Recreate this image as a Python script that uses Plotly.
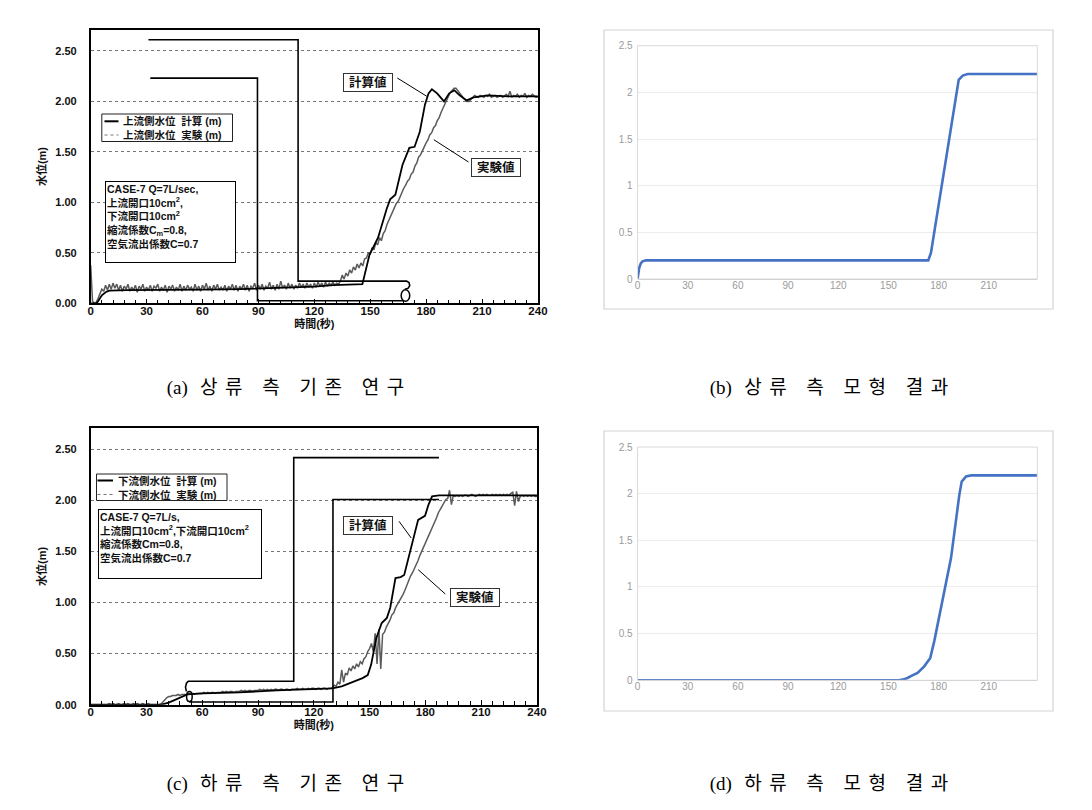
import plotly.graph_objects as go

W, H = 1092, 810

# ---------------- data ----------------
# 1-second sampling of the measured (experiment) water level
t_exp = list(range(0, 241))

# (a) upstream water level, experiment (m)
exp_a = [
    0.38, 0.02, 0.00, 0.01, 0.05, 0.10, 0.14, 0.12, 0.18, 0.13,
    0.19, 0.14, 0.20, 0.15, 0.19, 0.13, 0.18, 0.12, 0.17, 0.14,
    0.19, 0.12, 0.16, 0.13, 0.18, 0.11, 0.17, 0.14, 0.19, 0.12,
    0.16, 0.13, 0.18, 0.12, 0.17, 0.15, 0.19, 0.12, 0.16, 0.13,
    0.18, 0.11, 0.17, 0.14, 0.18, 0.12, 0.16, 0.13, 0.19, 0.12,
    0.17, 0.13, 0.18, 0.14, 0.16, 0.12, 0.19, 0.13, 0.17, 0.12,
    0.18, 0.14, 0.20, 0.13, 0.17, 0.12, 0.18, 0.14, 0.19, 0.13,
    0.16, 0.13, 0.18, 0.12, 0.17, 0.14, 0.19, 0.13, 0.18, 0.12,
    0.17, 0.14, 0.19, 0.13, 0.18, 0.12, 0.17, 0.15, 0.20, 0.13,
    0.18, 0.14, 0.19, 0.13, 0.17, 0.15, 0.21, 0.14, 0.18, 0.13,
    0.19, 0.14, 0.22, 0.15, 0.18, 0.14, 0.20, 0.15, 0.19, 0.14,
    0.18, 0.15, 0.20, 0.16, 0.19, 0.15, 0.20, 0.16, 0.19, 0.15,
    0.20, 0.16, 0.21, 0.17, 0.20, 0.16, 0.21, 0.17, 0.20, 0.18,
    0.21, 0.18, 0.20, 0.19, 0.22, 0.28, 0.24, 0.30, 0.27, 0.33,
    0.30, 0.36, 0.33, 0.39, 0.35, 0.40, 0.37, 0.44, 0.45, 0.50,
    0.49, 0.55, 0.53, 0.60, 0.58, 0.65, 0.62, 0.69, 0.72, 0.78,
    0.82, 0.87, 0.91, 0.94, 0.99, 1.01, 1.06, 1.09, 1.14, 1.17,
    1.21, 1.23, 1.28, 1.30, 1.36, 1.39, 1.45, 1.47, 1.52, 1.55,
    1.59, 1.62, 1.67, 1.69, 1.74, 1.76, 1.81, 1.84, 1.89, 1.93,
    1.98, 2.01, 2.05, 2.09, 2.11, 2.13, 2.13, 2.11, 2.08, 2.06,
    2.03, 2.01, 2.00, 2.00, 2.02, 2.04, 2.06, 2.05, 2.04, 2.06,
    2.05, 2.04, 2.06, 2.05, 2.07, 2.04, 2.05, 2.06, 2.04, 2.05,
    2.06, 2.04, 2.05, 2.07, 2.05, 2.10, 2.04, 2.06, 2.05, 2.07,
    2.04, 2.06, 2.05, 2.08, 2.04, 2.06, 2.05, 2.07, 2.05, 2.04,
    2.05,
]

# (a) upstream water level, calculation (m)
calc_a_t = [0, 2, 3, 4, 5, 6, 8, 10, 20, 40, 60, 80, 100, 120, 130, 134.6, 145.8,
            149.6, 154.2, 158.9, 160.7, 163.5, 167.3, 171, 173.8, 176.6, 179.4,
            181.3, 183.1, 185.9, 189.6, 192.4, 195.2, 198, 201.8, 205.5, 213, 224, 240]
calc_a = [0, 0, 0.0, 0.02, 0.05, 0.08, 0.11, 0.125, 0.13, 0.13, 0.135, 0.14, 0.15,
          0.165, 0.18, 0.185, 0.19, 0.48, 0.65, 0.94, 1.03, 1.075, 1.37, 1.54, 1.55,
          1.70, 1.97, 2.08, 2.12, 2.08, 2.00, 2.08, 2.11, 2.06, 2.01, 2.04, 2.06, 2.05, 2.05]

# (a) schematic (tank / pipe) drawing lines
sch_a1_t = [31, 111.3, 111.3, 169.5, 170.8, 171.2, 170.4, 168.6]
sch_a1_y = [2.61, 2.61, 0.22, 0.22, 0.205, 0.175, 0.15, 0.14]
sch_a2_t = [32, 89.5, 89.5, 168]
sch_a2_y = [2.23, 2.23, 0.025, 0.025]
ell_a = [166.6, 171.2, 0.02, 0.135]

# (c) downstream water level, experiment (m)
exp_c = [
    0.00, 0.00, 0.00, 0.00, 0.00, 0.00, 0.00, 0.00, 0.00, 0.00,
    0.01, 0.00, 0.01, 0.00, 0.00, 0.01, 0.00, 0.00, 0.01, 0.00,
    0.01, 0.00, 0.00, 0.01, 0.00, 0.01, 0.00, 0.00, 0.01, 0.00,
    0.00, 0.01, 0.00, 0.00, 0.00, 0.00, 0.00, 0.00, 0.01, 0.03,
    0.06, 0.07, 0.08, 0.08, 0.09, 0.09, 0.09, 0.10, 0.09, 0.10,
    0.10, 0.10, 0.10, 0.11, 0.10, 0.11, 0.10, 0.11, 0.11, 0.11,
    0.11, 0.12, 0.11, 0.12, 0.11, 0.12, 0.12, 0.11, 0.12, 0.12,
    0.12, 0.13, 0.12, 0.13, 0.12, 0.13, 0.13, 0.12, 0.13, 0.13,
    0.13, 0.14, 0.13, 0.14, 0.13, 0.14, 0.14, 0.13, 0.14, 0.14,
    0.14, 0.15, 0.14, 0.15, 0.14, 0.15, 0.14, 0.15, 0.14, 0.15,
    0.15, 0.14, 0.15, 0.15, 0.14, 0.15, 0.15, 0.14, 0.15, 0.15,
    0.15, 0.16, 0.15, 0.15, 0.16, 0.15, 0.15, 0.16, 0.15, 0.16,
    0.16, 0.15, 0.16, 0.16, 0.15, 0.16, 0.16, 0.15, 0.16, 0.16,
    0.17, 0.19, 0.18, 0.22, 0.20, 0.34, 0.22, 0.31, 0.29, 0.36,
    0.33, 0.38, 0.35, 0.40, 0.37, 0.42, 0.40, 0.45, 0.47, 0.52,
    0.55, 0.60, 0.52, 0.70, 0.40, 0.74, 0.35, 0.69, 0.71, 0.76,
    0.79, 0.83, 0.88, 0.90, 0.95, 0.98, 1.02, 1.04, 1.08, 1.12,
    1.17, 1.21, 1.26, 1.29, 1.33, 1.36, 1.41, 1.46, 1.50, 1.54,
    1.58, 1.62, 1.66, 1.71, 1.74, 1.79, 1.83, 1.88, 1.91, 1.95,
    1.98, 2.01, 2.02, 2.10, 1.96, 2.05, 2.04, 2.05, 2.04, 2.05,
    2.04, 2.05, 2.05, 2.04, 2.05, 2.06, 2.05, 2.04, 2.05, 2.06,
    2.05, 2.06, 2.05, 2.06, 2.05, 2.05, 2.06, 2.05, 2.06, 2.05,
    2.06, 2.05, 2.06, 2.05, 2.06, 2.05, 2.07, 2.08, 1.95, 2.09,
    1.99, 2.04, 2.05, 2.04, 2.05, 2.04, 2.05, 2.04, 2.05, 2.04,
    2.04,
]

# (c) downstream water level, calculation (m)
calc_c_t = [0, 38, 42, 46, 49, 52, 60, 80, 100, 120, 130, 135, 142.4, 146.2, 149,
            150.8, 153.6, 156.5, 159.3, 161.1, 163.9, 166.7, 168.6, 170.5, 173.3,
            176.1, 179.8, 181.7, 183.6, 187.3, 200, 240]
calc_c = [0, 0, 0.02, 0.05, 0.08, 0.10, 0.11, 0.12, 0.14, 0.15, 0.16, 0.18, 0.23,
          0.26, 0.29, 0.39, 0.65, 0.80, 0.85, 0.95, 1.24, 1.25, 1.27, 1.41, 1.63,
          1.81, 1.85, 1.96, 2.04, 2.05, 2.05, 2.05]

# (c) schematic drawing lines
sch_c1_t = [51.5, 51.0, 51.5, 52.5, 109.2, 109.2, 187.3]
sch_c1_y = [0.13, 0.17, 0.21, 0.23, 0.23, 2.42, 2.42]
sch_c2_t = [53, 130.3, 130.3, 187.3]
sch_c2_y = [0.026, 0.026, 2.01, 2.01]
ell_c = [51.6, 54.6, 0.03, 0.13]

# (b) upstream, model result
b_t = [0, 0.5, 1, 2, 3, 5, 173.8, 175.4, 192, 194.4, 197.4, 239]
b_y = [0, 0.07, 0.12, 0.17, 0.19, 0.2, 0.2, 0.28, 2.135, 2.18, 2.196, 2.196]

# (d) downstream, model result
d_t = [0, 156.4, 159, 161.4, 164, 167.4, 171.4, 175, 177.4, 181.4, 187.4, 192.4,
       193.8, 196.4, 199.4, 239]
d_y = [0, 0, 0.01, 0.025, 0.05, 0.079, 0.15, 0.24, 0.42, 0.775, 1.31, 1.99,
       2.13, 2.185, 2.196, 2.196]

left_ticks = [0, 0.5, 1.0, 1.5, 2.0, 2.5]
left_ticktext = ["0.00", "0.50", "1.00", "1.50", "2.00", "2.50"]

legend_a = ["上流側水位  計算 (m)", "上流側水位  実験 (m)"]
legend_c = ["下流側水位  計算 (m)", "下流側水位  実験 (m)"]

captions = [("(a)", "상류 측 기존 연구"), ("(b)", "상류 측 모형 결과"),
            ("(c)", "하류 측 기존 연구"), ("(d)", "하류 측 모형 결과")]

# ---------------- figure ----------------
JP = "Liberation Sans, Noto Sans CJK JP"
KR = "Liberation Serif, Noto Sans CJK KR"
CALC_LINE = dict(color="black", width=1.8)
EXP_LINE = dict(color="#5a5a5a", width=1.5)


def px(x):
    return x / W


def py(y):
    return 1 - y / H


fig = go.Figure()

# (a)
fig.add_trace(go.Scatter(x=t_exp, y=exp_a, mode="lines", name=legend_a[1],
                         line=EXP_LINE, xaxis="x", yaxis="y", showlegend=False))
fig.add_trace(go.Scatter(x=calc_a_t, y=calc_a, mode="lines", name=legend_a[0],
                         line=CALC_LINE, xaxis="x", yaxis="y", showlegend=False))
for tt, yy in [(sch_a1_t, sch_a1_y), (sch_a2_t, sch_a2_y)]:
    fig.add_trace(go.Scatter(x=tt, y=yy, mode="lines", showlegend=False,
                             line=dict(color="black", width=1.6), xaxis="x", yaxis="y"))

# (c)
fig.add_trace(go.Scatter(x=t_exp, y=exp_c, mode="lines", name=legend_c[1],
                         line=EXP_LINE, xaxis="x3", yaxis="y3", showlegend=False))
fig.add_trace(go.Scatter(x=calc_c_t, y=calc_c, mode="lines", name=legend_c[0],
                         line=CALC_LINE, xaxis="x3", yaxis="y3", showlegend=False))
for tt, yy in [(sch_c1_t, sch_c1_y), (sch_c2_t, sch_c2_y)]:
    fig.add_trace(go.Scatter(x=tt, y=yy, mode="lines", showlegend=False,
                             line=dict(color="black", width=1.6), xaxis="x3", yaxis="y3"))

# (b), (d)
fig.add_trace(go.Scatter(x=b_t, y=b_y, mode="lines", showlegend=False, name="(b)",
                         line=dict(color="#4472C4", width=2.6), xaxis="x2", yaxis="y2"))
fig.add_trace(go.Scatter(x=d_t, y=d_y, mode="lines", showlegend=False, name="(d)",
                         line=dict(color="#4472C4", width=2.6), xaxis="x4", yaxis="y4"))

left_x = dict(range=[0, 240], tick0=0, dtick=30, ticks="inside", ticklen=5,
              tickcolor="black", showline=True, linecolor="black", linewidth=1.5,
              mirror=True, showgrid=False, zeroline=False, automargin=False,
              minor=dict(dtick=6, ticks="inside", ticklen=4, tickcolor="black"),
              tickfont=dict(family=JP, size=11.5, color="#111", weight="bold"),
              ticklabelstandoff=-4,
              title=dict(text="時間(秒)", standoff=0,
                         font=dict(family=JP, size=11, color="#111", weight="bold")))
left_y = dict(range=[0, 2.71], tickvals=left_ticks, ticktext=left_ticktext,
              ticks="", showline=True, linecolor="black", linewidth=1.5, mirror=True,
              showgrid=True, gridcolor="#777777", griddash="dot", gridwidth=1,
              zeroline=False, ticklabelstandoff=10, automargin=False,
              tickfont=dict(family=JP, size=11, color="#111", weight="bold"),
              title=dict(text="水位(m)", standoff=6,
                         font=dict(family=JP, size=11, color="#111", weight="bold")))

right_x = dict(range=[0, 239], tick0=0, dtick=30, ticks="", showline=True,
               linecolor="#c8c8c8", linewidth=1, showgrid=False, zeroline=False,
               automargin=False,
               tickfont=dict(family="Liberation Sans", size=10, color="#9a9a9a"),
               ticklabelstandoff=-3)
right_y = dict(range=[0, 2.5], dtick=0.5, ticks="", showline=False, showgrid=True,
               gridcolor="#ececec", gridwidth=1, zeroline=False, automargin=False,
               tickfont=dict(family="Liberation Sans", size=10, color="#9a9a9a"),
               ticklabelstandoff=4)

fig.update_layout(
    width=W, height=H, margin=dict(l=0, r=0, t=0, b=0),
    paper_bgcolor="white", plot_bgcolor="white", showlegend=False,
    xaxis=dict(domain=[0.0757, 0.4853], anchor="y", **left_x),
    yaxis=dict(domain=[0.6354, 0.9732], anchor="x", **left_y),
    xaxis3=dict(domain=[0.0757, 0.4844], anchor="y3", **left_x),
    yaxis3=dict(domain=[0.1399, 0.4815], anchor="x3", **left_y),
    xaxis2=dict(domain=[0.5765, 0.9426], anchor="y2", **right_x),
    yaxis2=dict(domain=[0.6654, 0.9535], anchor="x2", **right_y),
    xaxis4=dict(domain=[0.5765, 0.9426], anchor="y4", **right_x),
    yaxis4=dict(domain=[0.17, 0.458], anchor="x4", **right_y),
)

shapes = []
# ellipses of the schematic drawings
shapes.append(dict(type="circle", xref="x", yref="y", x0=ell_a[0], x1=ell_a[1],
                   y0=ell_a[2], y1=ell_a[3], line=dict(color="black", width=1.5)))
shapes.append(dict(type="circle", xref="x3", yref="y3", x0=ell_c[0], x1=ell_c[1],
                   y0=ell_c[2], y1=ell_c[3], line=dict(color="black", width=1.5)))
# callout leader lines
for (x0, y0, x1, y1) in [(389.3, 70, 418.8, 88.3), (460.5, 154, 425.8, 131.7),
                         (391, 513.3, 403.2, 530), (437.3, 586, 410.2, 561.7)]:
    shapes.append(dict(type="line", xref="paper", yref="paper", x0=px(x0), y0=py(y0),
                       x1=px(x1), y1=py(y1), line=dict(color="black", width=1)))
# legend frames and sample lines for (a) and (c)
for (bx0, by0, bx1, by1, sx0, sx1, l1, l2) in [
        (93.8, 106, 224.5, 133.5, 96.5, 110.5, 113.3, 127.0),
        (88.5, 466, 219.0, 492.5, 89.5, 105.0, 472.5, 486.5)]:
    shapes.append(dict(type="rect", xref="paper", yref="paper", x0=px(bx0), y0=py(by0),
                       x1=px(bx1), y1=py(by1), fillcolor="white",
                       line=dict(color="#222", width=1)))
    shapes.append(dict(type="line", xref="paper", yref="paper", x0=px(sx0), y0=py(l1),
                       x1=px(sx1), y1=py(l1), line=dict(color="black", width=2)))
    shapes.append(dict(type="line", xref="paper", yref="paper", x0=px(sx0), y0=py(l2),
                       x1=px(sx1), y1=py(l2),
                       line=dict(color="#777", width=1.2, dash="dot")))
# Excel-like plot area and chart area frames for (b), (d)
for xr, yr in [("x2", "y2"), ("x4", "y4")]:
    shapes.append(dict(type="rect", xref=xr + " domain", yref=yr + " domain",
                       x0=0, x1=1, y0=0, y1=1, line=dict(color="#d9d9d9", width=1)))
for (x0, y0, x1, y1) in [(596, 22, 1045, 301), (596, 423, 1045, 703)]:
    shapes.append(dict(type="rect", xref="paper", yref="paper", x0=px(x0), y0=py(y0),
                       x1=px(x1), y1=py(y1), line=dict(color="#d4d4d4", width=1.2)))
fig.update_layout(shapes=shapes)

ann = []
# legend texts
for (tx, ty, labels) in [(113, 120.2, legend_a), (107.5, 479.5, legend_c)]:
    ann.append(dict(xref="paper", yref="paper", x=px(tx), y=py(ty), xanchor="left",
                    yanchor="middle", showarrow=False, align="left",
                    font=dict(family=JP, size=10.5, color="#111", weight="bold"),
                    text="<br>".join(labels)))
# info boxes
ann.append(dict(xref="paper", yref="paper", x=px(97.3), y=py(172.5), xanchor="left",
                yanchor="top", showarrow=False, align="left", valign="top",
                width=127, height=78, bordercolor="black", borderwidth=1, borderpad=1,
                bgcolor="white",
                font=dict(family=JP, size=10.5, color="#111", weight="bold"),
                text="CASE-7 Q=7L/sec,<br>上流開口10cm<sup>2</sup>,<br>下流開口10cm<sup>2</sup>"
                     "<br>縮流係数C<sub>m</sub>=0.8,<br>空気流出係数C=0.7"))
ann.append(dict(xref="paper", yref="paper", x=px(89.5), y=py(501), xanchor="left",
                yanchor="top", showarrow=False, align="left", valign="top",
                width=160, height=66, bordercolor="black", borderwidth=1, borderpad=1,
                bgcolor="white",
                font=dict(family=JP, size=10.5, color="#111", weight="bold"),
                text="CASE-7 Q=7L/s,<br>上流開口10cm<sup>2</sup>,下流開口10cm<sup>2</sup>"
                     "<br>縮流係数Cm=0.8,<br>空気流出係数C=0.7"))
# callout labels
for (cx, cy, txt) in [(359.8, 74.5, "計算値"), (488.3, 159.5, "実験値"),
                      (360.1, 517, "計算値"), (467, 589.5, "実験値")]:
    ann.append(dict(xref="paper", yref="paper", x=px(cx), y=py(cy), xanchor="center",
                    yanchor="middle", showarrow=False, width=46, height=15,
                    bordercolor="#333", borderwidth=1, borderpad=1, bgcolor="white",
                    font=dict(family=JP, size=12.5, color="#111", weight="bold"),
                    text=txt))
# captions ("(x)" kept tight, the Korean words spaced out)
for (cx, cy), (tag, words) in zip([(281, 380), (825, 380), (281, 776), (825, 776)],
                                   captions):
    ann.append(dict(xref="paper", yref="paper", x=px(cx), y=py(cy), xanchor="center",
                    yanchor="middle", showarrow=False,
                    font=dict(family=KR, size=19, color="black"),
                    text='<span style="letter-spacing:0px">' + tag + '</span> ' + words))
fig.update_layout(annotations=ann)

# widen the letter spacing of the sub-figure captions, as in the printed figure
post = """
var gd = document.getElementById('{plot_id}');
gd.querySelectorAll('.annotation-text').forEach(function (t) {
  if (/^\\([abcd]\\)/.test(t.textContent)) { t.style.letterSpacing = '7.5px'; }
});
"""
fig.write_html("out.html", post_script=post)
